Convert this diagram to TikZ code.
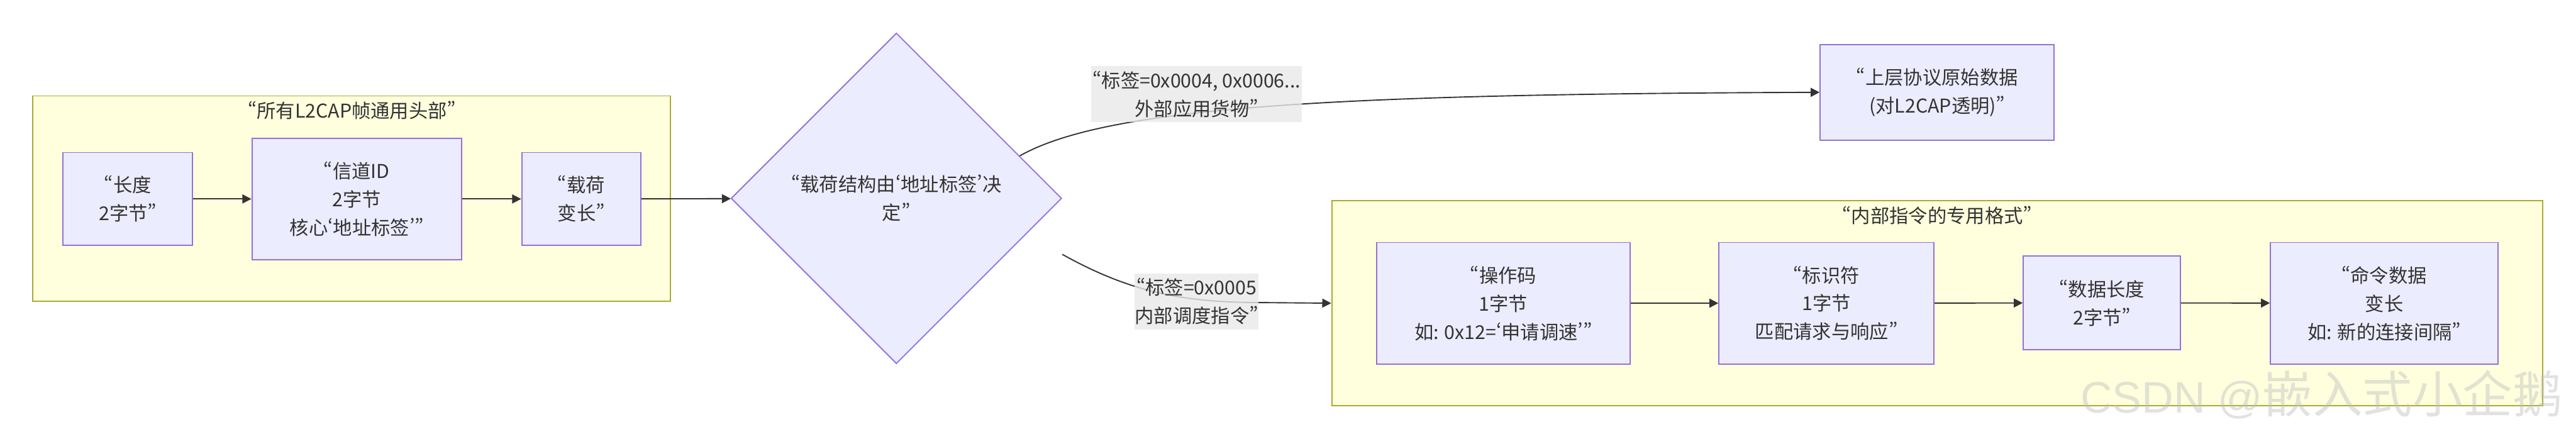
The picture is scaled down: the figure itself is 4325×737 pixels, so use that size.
\documentclass[tikz,border=0pt]{standalone}
\usepackage{fontspec}
\setmainfont{Noto Sans CJK SC}[RawFeature=+pwid]
\newfontfamily\markfont{Liberation Sans}
\newfontfamily\markcjk{Noto Sans CJK SC}
\usetikzlibrary{arrows.meta,shapes.geometric}
\definecolor{figlavender}{HTML}{ECECFF}
\definecolor{figpurple}{HTML}{9370DB}
\definecolor{figcream}{HTML}{FFFFDE}
\definecolor{figolive}{HTML}{AAAA33}
\definecolor{figlabel}{HTML}{E8E8E8}
\definecolor{figink}{HTML}{333333}
\begin{document}
\begin{tikzpicture}[x=1pt,y=-1pt,
  every node/.style={font=\fontsize{32pt}{47.5pt}\selectfont,text=figink,align=center,inner sep=0pt},
  field/.style={draw=figpurple,fill=figlavender,line width=2pt,minimum height=156pt},
  group/.style={draw=figolive,fill=figcream,line width=2pt},
  elabel/.style={fill=figlabel,fill opacity=0.8,text opacity=1},
  edge/.style={draw=figink,line width=2pt,-{Triangle[length=15pt,width=15pt]}}]
\useasboundingbox (0,0) rectangle (4325,737);
% common header
\node[group,minimum width=1071pt,minimum height=345pt] (hdr) at (590.5,333.5) {};
\node (hdr-title) at (591,185) {“所有L2CAP帧通用头部”};
\node[field,minimum width=217pt] (len) at (214.5,334) {“长度\\2字节”};
\node[field,minimum width=352pt,minimum height=204pt] (chan) at (599,334) {“信道ID\\2字节\\核心‘地址标签’”};
\node[field,minimum width=200pt] (pay) at (976,334) {“载荷\\变长”};
% decision
\node[diamond,draw=figpurple,fill=figlavender,line width=2pt,minimum width=555pt,minimum height=555pt] (dia) at (1505,333) {“载荷结构由‘地址标签’决\\定”};
\node[field,minimum width=393pt,minimum height=160pt] (up) at (3252.5,155) {“上层协议原始数据\\(对L2CAP透明)”};
% internal command
\node[group,minimum width=2033pt,minimum height=344pt] (cmdfmt) at (3252.5,509) {};
\node (cmdfmt-title) at (3252.5,362) {“内部指令的专用格式”};
\node[field,minimum width=425pt,minimum height=204pt] (op) at (2524,509) {“操作码\\1字节\\如: 0x12=‘申请调速’”};
\node[field,minimum width=361pt,minimum height=204pt] (ident) at (3066.5,509) {“标识符\\1字节\\匹配请求与响应”};
\node[field,minimum width=264pt,minimum height=157pt] (dlen) at (3529,508.5) {“数据长度\\2字节”};
\node[field,minimum width=382pt,minimum height=204pt] (cmd) at (4003,509) {“命令数据\\变长\\如: 新的连接间隔”};
% edges
\draw[edge] (len) -- (chan);
\draw[edge] (chan) -- (pay);
\draw[edge] (pay) -- (dia);
\draw[edge] (dia.19) .. controls (1860,178) and (2250,158) .. (up.west);
\draw[edge] ([yshift=-94pt]dia.east) .. controls (1900,492) and (1990,508) .. (2120,508) -- (cmdfmt.west);
\draw[edge] (op) -- (ident);
\draw[edge] (ident) -- (dlen);
\draw[edge] (dlen) -- (cmd);
\node[elabel,minimum width=354pt,minimum height=94pt] (tag-ext) at (2009,158) {“标签=0x0004, 0x0006...\\外部应用货物”};
\node[elabel,minimum width=208pt,minimum height=94pt] (tag-int) at (2009,506) {“标签=0x0005\\内部调度指令”};
% watermark
\node[font=\markfont\fontsize{74pt}{74pt}\selectfont,text=black!25,text opacity=0.45,anchor=base west] (mark) at (3493,693) {CSDN @{\markcjk\fontsize{84pt}{84pt}\selectfont 嵌入式小企鹅}};
\end{tikzpicture}
\end{document}
